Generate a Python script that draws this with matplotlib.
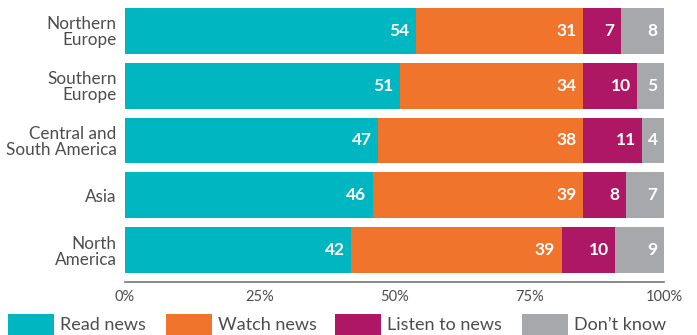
import matplotlib.pyplot as plt
import matplotlib.patches as mpatches
import numpy as np

plt.rcParams['font.family'] = ['Lato', 'DejaVu Sans']

regions = ['Northern\nEurope', 'Southern\nEurope', 'Central and\nSouth America', 'Asia', 'North\nAmerica']
read_news = [54, 51, 47, 46, 42]
watch_news = [31, 34, 38, 39, 39]
listen_news = [7, 10, 11, 8, 10]
dont_know = [8, 5, 4, 7, 9]

series_names = ['Read news', 'Watch news', 'Listen to news', "Don\u2019t know"]
colors = ['#00B7C1', '#F1742D', '#AD1763', '#A7A8AB']
ticks = [0, 25, 50, 75, 100]
tick_labels = ['0%', '25%', '50%', '75%', '100%']

text_col = '#4d4d4d'

fig = plt.figure(figsize=(6.97, 3.35), dpi=100)
ax = fig.add_axes([125 / 697, 1 - 282 / 335, (664 - 125) / 697, 274 / 335])

y = np.arange(len(regions))
left = np.zeros(len(regions))
for vals, col in zip([read_news, watch_news, listen_news, dont_know], colors):
    vals = np.array(vals, dtype=float)
    ax.barh(y, vals, left=left, height=0.84, color=col, linewidth=0)
    for yi, l, v in zip(y, left, vals):
        ax.text(l + v - 1.2, yi, '%d' % v, ha='right', va='center',
                color='white', fontsize=12.5, fontweight='bold')
    left = left + vals

ax.set_xlim(0, 100)
ax.set_ylim(4 + 0.42 + 9 / 54.75, -0.42)
ax.set_yticks(y)
ax.set_yticklabels(regions, fontsize=12.3, color=text_col)
for lab in ax.get_yticklabels():
    lab.set_linespacing(1.0)
ax.set_xticks(ticks)
ax.set_xticklabels(tick_labels, fontsize=10.5, color=text_col)
ax.tick_params(axis='both', length=0)
ax.tick_params(axis='y', pad=6)
ax.tick_params(axis='x', pad=6)

for s in ['top', 'right', 'left']:
    ax.spines[s].set_visible(False)
ax.spines['bottom'].set_color('#777777')
ax.spines['bottom'].set_linewidth(1.2)

# legend, drawn by hand to sit at the bottom edge
box_x = [8, 166, 335, 522]
for bx, name, col in zip(box_x, series_names, colors):
    fig.add_artist(mpatches.Rectangle((bx / 697, 1 - 338 / 335), 46 / 697, 24 / 335,
                                      transform=fig.transFigure, color=col, linewidth=0))
    fig.text((bx + 52) / 697, 1 - 325 / 335, name, ha='left', va='center',
             fontsize=13, color=text_col)

fig.savefig('out.png', dpi=100)
